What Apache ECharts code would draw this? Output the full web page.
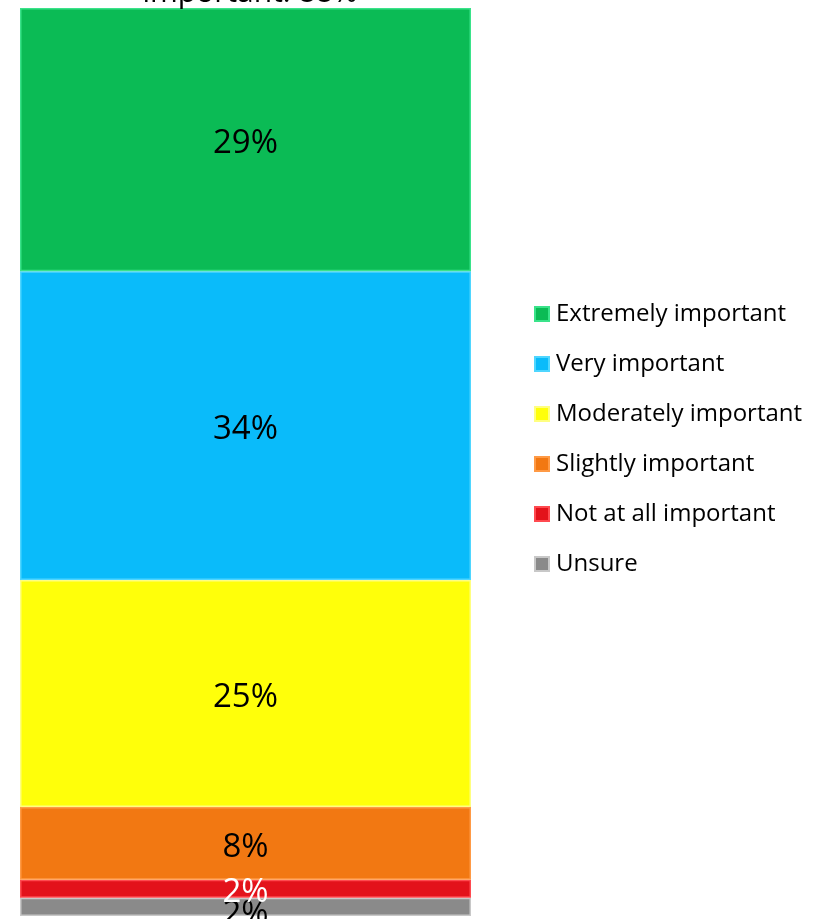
<!DOCTYPE html>
<html>
<head>
<meta charset="utf-8">
<script src="https://cdn.jsdelivr.net/npm/echarts@6/dist/echarts.min.js"></script>
<style>
  html, body { margin: 0; padding: 0; background: #fff; }
  #chart { width: 813px; height: 919px; }
</style>
</head>
<body>
<div id="chart"></div>
<script>
// 各档位占比（自下而上堆叠）
const categories = ['']
const seriesNames = ['Unsure', 'Not at all important', 'Slightly important', 'Moderately important', 'Very important', 'Extremely important']
const unsure = [2]
const notAtAll = [2]
const slightly = [8]
const moderately = [25]
const very = [34]
const extremely = [29]

const colors = ['#8a8a8a', '#e3121b', '#f27812', '#ffff0a', '#0abbfa', '#0bbb55']
const edges = ['#c8c8c8', '#ff4a50', '#ff9a45', '#ffff80', '#4fd6ff', '#3ae38a']
const values = [unsure, notAtAll, slightly, moderately, very, extremely]
const labelColors = ['#000', '#fff', '#000', '#000', '#000', '#000']

const chart = echarts.init(document.getElementById('chart'))

const option = {
  animation: false,
  textStyle: { fontFamily: 'Open Sans' },
  title: {
    text: 'important: 88%',
    left: 245,
    textAlign: 'center',
    top: -27,
    textStyle: { fontSize: 30, fontWeight: 'normal', color: '#000', fontFamily: 'Open Sans' },
  },
  legend: {
    orient: 'vertical',
    left: 529,
    top: 297,
    itemWidth: 14,
    itemHeight: 14,
    itemGap: 26,
    icon: 'rect',
    data: seriesNames.slice().reverse(),
    textStyle: { fontSize: 24, color: '#000', fontFamily: 'Open Sans', padding: [0, 0, 0, 2] },
  },
  grid: {
    left: 20,
    right: 342,
    top: 8,
    bottom: 3,
  },
  xAxis: {
    type: 'category',
    data: categories,
    show: false,
  },
  yAxis: {
    type: 'value',
    min: 0,
    max: 100,
    show: false,
  },
  series: seriesNames.map((name, i) => ({
    name: name,
    type: 'bar',
    stack: 'total',
    barWidth: '100%',
    data: values[i],
    itemStyle: {
      color: colors[i],
      borderColor: edges[i],
      borderWidth: 1.5,
    },
    label: {
      show: true,
      position: 'inside',
      formatter: '{c}%',
      fontSize: 33,
      color: labelColors[i],
      offset: i === 0 ? [0, 8] : [0, 4],
      fontFamily: 'Open Sans',
    },
  })),
}

option && chart.setOption(option)
</script>
</body>
</html>
